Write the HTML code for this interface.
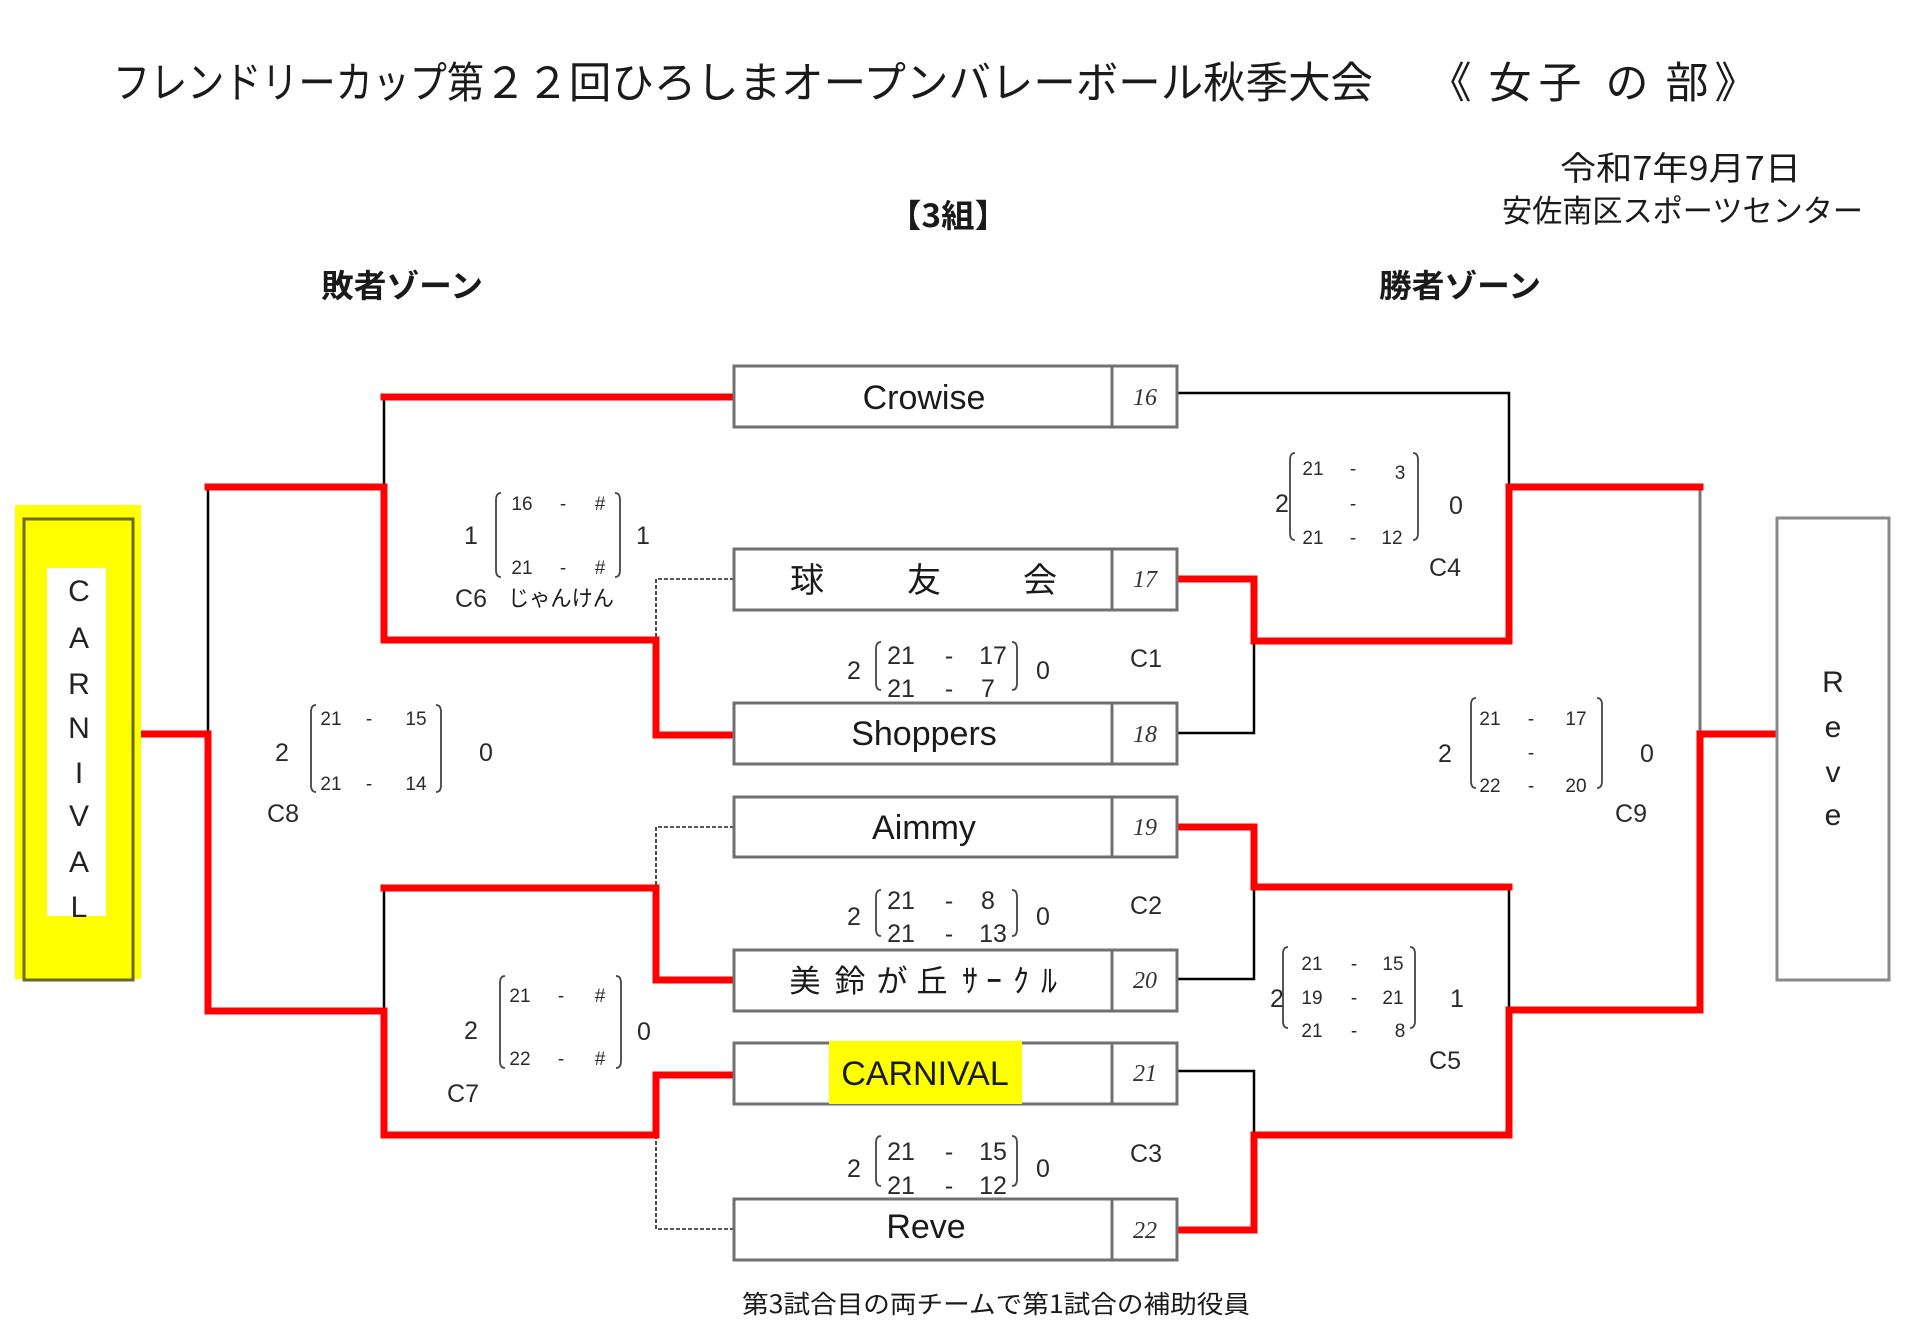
<!DOCTYPE html>
<html><head><meta charset="utf-8"><style>
html,body{margin:0;padding:0;background:#fff;}
svg{display:block;}
.t{font-family:"Liberation Sans","Noto Sans CJK JP",sans-serif;fill:#1a1a1a;}
.j{font-family:"Noto Sans CJK JP","Liberation Sans",sans-serif;fill:#1a1a1a;}
.s{font-family:"Liberation Sans","Noto Sans CJK JP",sans-serif;font-size:25px;text-anchor:middle;fill:#2a2a2a;}
.ss{font-family:"Liberation Sans","Noto Sans CJK JP",sans-serif;font-size:19px;text-anchor:middle;fill:#2a2a2a;}
.n{font-family:"Liberation Sans","Noto Sans CJK JP",sans-serif;font-size:34px;text-anchor:middle;fill:#1a1a1a;}
.seed{font-family:"Liberation Serif",serif;font-style:italic;font-size:24px;text-anchor:middle;fill:#333;}
.v{font-family:"Liberation Sans",sans-serif;font-size:30px;text-anchor:middle;fill:#222;}
.box{fill:#fff;stroke:#707070;stroke-width:3;}
.red{fill:none;stroke:#ff0000;stroke-width:7;stroke-linejoin:miter;stroke-linecap:square;}
.blk{fill:none;stroke:#000;stroke-width:2.5;}
.dash{fill:none;stroke:#222;stroke-width:1.6;stroke-dasharray:4 2;}
.br{fill:none;stroke:#444;stroke-width:1.8;}
</style></head><body>
<svg width="1920" height="1338" viewBox="0 0 1920 1338" xmlns="http://www.w3.org/2000/svg">
<rect width="1920" height="1338" fill="#fff"/>

<!-- Title -->
<text class="j" x="113" y="98" font-size="43" textLength="371" lengthAdjust="spacingAndGlyphs">フレンドリーカップ第</text>
<text class="j" x="484" y="98" font-size="43" textLength="889" lengthAdjust="spacingAndGlyphs">２２回ひろしまオープンバレーボール秋季大会</text>
<text class="j" x="1450" y="98" font-size="43" text-anchor="middle">《</text>
<text class="j" x="1510" y="98" font-size="43" text-anchor="middle">女</text>
<text class="j" x="1560" y="98" font-size="43" text-anchor="middle">子</text>
<text class="j" x="1627" y="98" font-size="43" text-anchor="middle">の</text>
<text class="j" x="1687" y="98" font-size="43" text-anchor="middle">部</text>
<text class="j" x="1736" y="98" font-size="43" text-anchor="middle">》</text>

<text class="j" x="888" y="227" font-size="32" font-weight="bold" textLength="120" lengthAdjust="spacingAndGlyphs">【3組】</text>
<text class="j" x="1560" y="180" font-size="33" textLength="241" lengthAdjust="spacingAndGlyphs">令和7年9月7日</text>
<text class="j" x="1502" y="222" font-size="31" textLength="361" lengthAdjust="spacingAndGlyphs">安佐南区スポーツセンター</text>
<text class="j" x="321" y="297" font-size="32" font-weight="bold" textLength="162" lengthAdjust="spacingAndGlyphs">敗者ゾーン</text>
<text class="j" x="1379" y="297" font-size="32" font-weight="bold" textLength="162" lengthAdjust="spacingAndGlyphs">勝者ゾーン</text>

<!-- Black connectors -->
<polyline class="blk" points="384,397 384,487"/>
<polyline class="blk" points="208,487 208,734"/>
<polyline class="blk" points="384,888 384,1011"/>
<polyline class="blk" points="1177,393 1509,393 1509,487"/>
<polyline class="blk" points="1177,733 1254,733 1254,641"/>
<polyline class="blk" points="1177,979 1254,979 1254,887"/>
<polyline class="blk" points="1509,887 1509,1010"/>
<polyline class="blk" points="1177,1071 1254,1071 1254,1135"/>
<polyline points="1700,487 1700,734" fill="none" stroke="#777" stroke-width="3"/>

<!-- Dashed -->
<polyline class="dash" points="734,579 656,579 656,640"/>
<polyline class="dash" points="734,827 656,827 656,888"/>
<polyline class="dash" points="656,1135 656,1229 734,1229"/>

<!-- Red connectors -->
<polyline class="red" points="734,397 384,397"/>
<polyline class="red" points="208,487 384,487 384,640 656,640 656,735 734,735"/>
<polyline class="red" points="136,734 208,734 208,1011 384,1011 384,1135 656,1135 656,1075 734,1075"/>
<polyline class="red" points="384,888 656,888 656,980 734,980"/>
<polyline class="red" points="1177,579 1254,579 1254,641 1509,641 1509,487 1700,487"/>
<polyline class="red" points="1775,734 1700,734 1700,1010 1509,1010 1509,1135 1254,1135 1254,1230 1177,1230"/>
<polyline class="red" points="1177,827 1254,827 1254,887 1509,887"/>

<!-- Left CARNIVAL vertical box -->
<rect x="15" y="505" width="126" height="474" fill="#ffff00"/>
<rect x="24" y="519" width="109" height="461" fill="none" stroke="#6a6a2a" stroke-width="3"/>
<rect x="47" y="568" width="59" height="348" fill="#fff"/>
<text class="v" x="79" y="601">C</text>
<text class="v" x="79" y="648">A</text>
<text class="v" x="79" y="694">R</text>
<text class="v" x="79" y="738">N</text>
<text class="v" x="79" y="783">I</text>
<text class="v" x="79" y="826">V</text>
<text class="v" x="79" y="872">A</text>
<text class="v" x="79" y="917">L</text>

<!-- Right Reve vertical box -->
<rect x="1777" y="518" width="112" height="462" fill="#fff" stroke="#8a8a8a" stroke-width="3"/>
<text class="v" x="1833" y="692">R</text>
<text class="v" x="1833" y="737">e</text>
<text class="v" x="1833" y="782">v</text>
<text class="v" x="1833" y="825">e</text>

<!-- Team boxes -->
<g>
<rect class="box" x="734" y="366" width="443" height="61"/><line x1="1112" y1="366" x2="1112" y2="427" stroke="#707070" stroke-width="3"/>
<rect class="box" x="734" y="549" width="443" height="61"/><line x1="1112" y1="549" x2="1112" y2="610" stroke="#707070" stroke-width="3"/>
<rect class="box" x="734" y="703" width="443" height="61"/><line x1="1112" y1="703" x2="1112" y2="764" stroke="#707070" stroke-width="3"/>
<rect class="box" x="734" y="797" width="443" height="60"/><line x1="1112" y1="797" x2="1112" y2="857" stroke="#707070" stroke-width="3"/>
<rect class="box" x="734" y="950" width="443" height="61"/><line x1="1112" y1="950" x2="1112" y2="1011" stroke="#707070" stroke-width="3"/>
<rect class="box" x="734" y="1043" width="443" height="61"/><line x1="1112" y1="1043" x2="1112" y2="1104" stroke="#707070" stroke-width="3"/>
<rect class="box" x="734" y="1199" width="443" height="61"/><line x1="1112" y1="1199" x2="1112" y2="1260" stroke="#707070" stroke-width="3"/>
</g>
<rect x="829" y="1041" width="193" height="63" fill="#ffff00"/>

<text class="n" x="924" y="409">Crowise</text>
<text class="j" x="807" y="592" font-size="34" text-anchor="middle">球</text>
<text class="j" x="924" y="592" font-size="34" text-anchor="middle">友</text>
<text class="j" x="1040" y="592" font-size="34" text-anchor="middle">会</text>
<text class="n" x="924" y="745">Shoppers</text>
<text class="n" x="924" y="839">Aimmy</text>
<text class="j" x="805" y="992" font-size="31" text-anchor="middle">美</text>
<text class="j" x="850" y="992" font-size="31" text-anchor="middle">鈴</text>
<text class="j" x="892" y="992" font-size="31" text-anchor="middle">が</text>
<text class="j" x="932" y="992" font-size="31" text-anchor="middle">丘</text>
<text class="j" x="970" y="992" font-size="32" text-anchor="middle">ｻ</text>
<text class="j" x="994" y="992" font-size="32" text-anchor="middle">ｰ</text>
<text class="j" x="1021" y="992" font-size="32" text-anchor="middle">ｸ</text>
<text class="j" x="1049" y="992" font-size="32" text-anchor="middle">ﾙ</text>
<text class="n" x="925" y="1085">CARNIVAL</text>
<text class="n" x="926" y="1238">Reve</text>

<text class="seed" x="1145" y="405">16</text>
<text class="seed" x="1145" y="587">17</text>
<text class="seed" x="1145" y="742">18</text>
<text class="seed" x="1145" y="835">19</text>
<text class="seed" x="1145" y="988">20</text>
<text class="seed" x="1145" y="1081">21</text>
<text class="seed" x="1145" y="1238">22</text>

<!-- C1 -->
<text class="s" x="854" y="679">2</text>
<text class="s" x="901" y="664">21</text><text class="s" x="949" y="664">-</text><text class="s" x="993" y="664">17</text>
<text class="s" x="901" y="697">21</text><text class="s" x="949" y="697">-</text><text class="s" x="988" y="697">7</text>
<text class="s" x="1043" y="679">0</text>
<text class="s" x="1146" y="667">C1</text>
<path class="br" d="M881,642 C877,642 876,645 876,649 L876,683 C876,687 877,690 881,690"/>
<path class="br" d="M1012,642 C1016,642 1017,645 1017,649 L1017,683 C1017,687 1016,690 1012,690"/>

<!-- C2 -->
<text class="s" x="854" y="925">2</text>
<text class="s" x="901" y="909">21</text><text class="s" x="949" y="909">-</text><text class="s" x="988" y="909">8</text>
<text class="s" x="901" y="942">21</text><text class="s" x="949" y="942">-</text><text class="s" x="993" y="942">13</text>
<text class="s" x="1043" y="925">0</text>
<text class="s" x="1146" y="914">C2</text>
<path class="br" d="M881,890 C877,890 876,893 876,897 L876,929 C876,933 877,936 881,936"/>
<path class="br" d="M1012,890 C1016,890 1017,893 1017,897 L1017,929 C1017,933 1016,936 1012,936"/>

<!-- C3 -->
<text class="s" x="854" y="1177">2</text>
<text class="s" x="901" y="1160">21</text><text class="s" x="949" y="1160">-</text><text class="s" x="993" y="1160">15</text>
<text class="s" x="901" y="1194">21</text><text class="s" x="949" y="1194">-</text><text class="s" x="993" y="1194">12</text>
<text class="s" x="1043" y="1177">0</text>
<text class="s" x="1146" y="1162">C3</text>
<path class="br" d="M881,1136 C877,1136 876,1139 876,1143 L876,1179 C876,1183 877,1186 881,1186"/>
<path class="br" d="M1012,1136 C1016,1136 1017,1139 1017,1143 L1017,1179 C1017,1183 1016,1186 1012,1186"/>

<!-- C6 -->
<text class="s" x="471" y="544">1</text>
<text class="ss" x="522" y="510">16</text><text class="ss" x="563" y="510">-</text><text class="ss" x="600" y="510">#</text>
<text class="ss" x="522" y="574">21</text><text class="ss" x="563" y="574">-</text><text class="ss" x="600" y="574">#</text>
<text class="s" x="643" y="544">1</text>
<text class="s" x="471" y="607">C6</text>
<text class="j" x="508" y="606" font-size="22" textLength="106" lengthAdjust="spacingAndGlyphs" fill="#333">じゃんけん</text>
<path class="br" d="M501,493 C497,493 496,496 496,500 L496,570 C496,574 497,577 501,577"/>
<path class="br" d="M615,493 C619,493 620,496 620,500 L620,570 C620,574 619,577 615,577"/>

<!-- C8 -->
<text class="s" x="282" y="761">2</text>
<text class="ss" x="331" y="725">21</text><text class="ss" x="369" y="725">-</text><text class="ss" x="416" y="725">15</text>
<text class="ss" x="331" y="790">21</text><text class="ss" x="369" y="790">-</text><text class="ss" x="416" y="790">14</text>
<text class="s" x="486" y="761">0</text>
<text class="s" x="283" y="822">C8</text>
<path class="br" d="M316,705 C312,705 311,708 311,712 L311,785 C311,789 312,792 316,792"/>
<path class="br" d="M436,705 C440,705 441,708 441,712 L441,785 C441,789 440,792 436,792"/>

<!-- C7 -->
<text class="s" x="471" y="1039">2</text>
<text class="ss" x="520" y="1002">21</text><text class="ss" x="561" y="1002">-</text><text class="ss" x="600" y="1002">#</text>
<text class="ss" x="520" y="1065">22</text><text class="ss" x="561" y="1065">-</text><text class="ss" x="600" y="1065">#</text>
<text class="s" x="644" y="1040">0</text>
<text class="s" x="463" y="1102">C7</text>
<path class="br" d="M505,976 C501,976 500,979 500,983 L500,1061 C500,1065 501,1068 505,1068"/>
<path class="br" d="M616,976 C620,976 621,979 621,983 L621,1061 C621,1065 620,1068 616,1068"/>

<!-- C4 -->
<text class="s" x="1282" y="512">2</text>
<text class="ss" x="1313" y="475">21</text><text class="ss" x="1353" y="475">-</text><text class="ss" x="1400" y="479">3</text>
<text class="ss" x="1353" y="510">-</text>
<text class="ss" x="1313" y="544">21</text><text class="ss" x="1353" y="544">-</text><text class="ss" x="1392" y="544">12</text>
<text class="s" x="1456" y="514">0</text>
<text class="s" x="1445" y="576">C4</text>
<path class="br" d="M1295,453 C1291,453 1290,456 1290,460 L1290,533 C1290,537 1291,540 1295,540"/>
<path class="br" d="M1413,453 C1417,453 1418,456 1418,460 L1418,533 C1418,537 1417,540 1413,540"/>

<!-- C9 -->
<text class="s" x="1445" y="762">2</text>
<text class="ss" x="1490" y="725">21</text><text class="ss" x="1531" y="725">-</text><text class="ss" x="1576" y="725">17</text>
<text class="ss" x="1531" y="759">-</text>
<text class="ss" x="1490" y="792">22</text><text class="ss" x="1531" y="792">-</text><text class="ss" x="1576" y="792">20</text>
<text class="s" x="1647" y="762">0</text>
<text class="s" x="1631" y="822">C9</text>
<path class="br" d="M1476,698 C1472,698 1471,701 1471,705 L1471,781 C1471,785 1472,788 1476,788"/>
<path class="br" d="M1597,698 C1601,698 1602,701 1602,705 L1602,781 C1602,785 1601,788 1597,788"/>

<!-- C5 -->
<text class="s" x="1277" y="1007">2</text>
<text class="ss" x="1312" y="970">21</text><text class="ss" x="1354" y="970">-</text><text class="ss" x="1393" y="970">15</text>
<text class="ss" x="1312" y="1004">19</text><text class="ss" x="1354" y="1004">-</text><text class="ss" x="1393" y="1004">21</text>
<text class="ss" x="1312" y="1037">21</text><text class="ss" x="1354" y="1037">-</text><text class="ss" x="1400" y="1037">8</text>
<text class="s" x="1457" y="1007">1</text>
<text class="s" x="1445" y="1069">C5</text>
<path class="br" d="M1288,947 C1284,947 1283,950 1283,954 L1283,1021 C1283,1025 1284,1028 1288,1028"/>
<path class="br" d="M1410,947 C1414,947 1415,950 1415,954 L1415,1021 C1415,1025 1414,1028 1410,1028"/>

<!-- Footer -->
<text class="j" x="742" y="1313" font-size="25" textLength="508" lengthAdjust="spacingAndGlyphs" fill="#333">第3試合目の両チームで第1試合の補助役員</text>
</svg>
</body></html>
